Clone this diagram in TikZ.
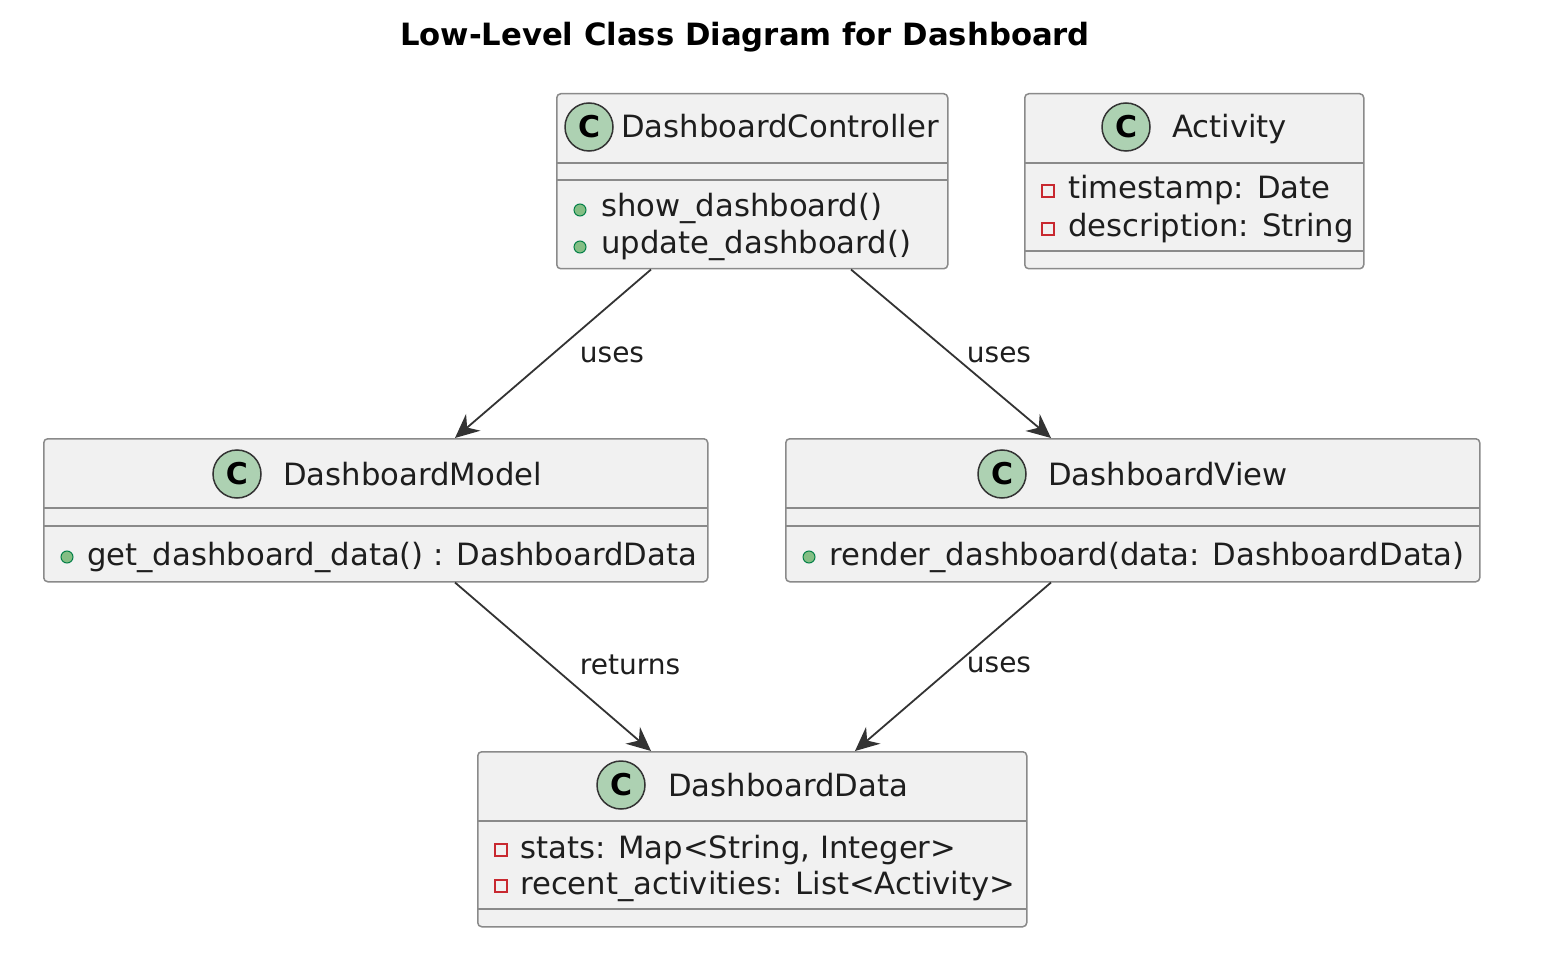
\documentclass[tikz,border=0pt]{standalone}
\usepackage{fontspec}
\setmainfont{DejaVu Sans}
\usetikzlibrary{arrows.meta}
\definecolor{boxfill}{HTML}{F1F1F1}
\definecolor{boxline}{HTML}{8A8A8A}
\definecolor{cgreen}{HTML}{ADD1B2}
\definecolor{pubfill}{HTML}{84BE84}
\definecolor{publine}{HTML}{038048}
\definecolor{privline}{HTML}{C82930}
\definecolor{txtcol}{HTML}{1E1E1E}
\begin{document}
\begin{tikzpicture}[x=1pt,y=-1pt,
  classbox/.style={draw=boxline, fill=boxfill, line width=1.5pt, rounded corners=4pt, anchor=north west, inner sep=0pt},
  sepline/.style={draw=boxline, line width=1.5pt},
  cicon/.style={circle, draw=black!80, fill=cgreen, line width=1.5pt, minimum size=48pt, inner sep=0pt, font=\bfseries\fontsize{30}{30}\selectfont},
  txt/.style={anchor=base west, inner sep=0pt, font=\fontsize{30.7}{36}\selectfont, text=txtcol},
  pub/.style={circle, draw=publine, fill=pubfill, line width=1pt, minimum size=12pt, inner sep=0pt},
  priv/.style={rectangle, draw=privline, line width=1.6pt, minimum size=12pt, inner sep=0pt},
  lbl/.style={inner sep=0pt, font=\fontsize{28}{32}\selectfont, text=txtcol},
  conn/.style={draw=black!80, line width=1.8pt, -{Stealth[length=24pt,width=22pt,inset=8pt]}}
]
\useasboundingbox[fill=white] (0,0) rectangle (1544,976);

% title
\node[anchor=base, inner sep=0pt, font=\bfseries\fontsize{30.7}{36}\selectfont] (title) at (745,46) {Low-Level Class Diagram for Dashboard};

% DashboardController
\node[classbox, minimum width=391pt, minimum height=175pt] (ctrl) at (556,93) {};
\draw[sepline] (556,163) -- (947,163);
\draw[sepline] (556,180) -- (947,180);
\node[cicon] (ctrlc) at (589,127) {C};
\node[txt] (ctrln) at (621,138) {DashboardController};
\node[pub] (ctrlp1) at (580,210) {};
\node[txt] (ctrlm1) at (601,217) {show\_dashboard()};
\node[pub] (ctrlp2) at (580,247) {};
\node[txt] (ctrlm2) at (601,254) {update\_dashboard()};

% Activity
\node[classbox, minimum width=339pt, minimum height=175pt] (act) at (1024,93) {};
\draw[sepline] (1024,163) -- (1363,163);
\draw[sepline] (1024,251) -- (1363,251);
\node[cicon] (actc) at (1126,127) {C};
\node[txt] (actn) at (1172,138) {Activity};
\node[priv] (acta1i) at (1048,191) {};
\node[txt] (acta1) at (1068,199) {timestamp: Date};
\node[priv] (acta2i) at (1048,229) {};
\node[txt] (acta2) at (1068,237) {description: String};

% DashboardModel
\node[classbox, minimum width=664pt, minimum height=143pt] (model) at (43,438) {};
\draw[sepline] (43,508) -- (707,508);
\draw[sepline] (43,526) -- (707,526);
\node[cicon] (modelc) at (237,474) {C};
\node[txt] (modeln) at (283,485) {DashboardModel};
\node[pub] (modelp1) at (67,557) {};
\node[txt] (modelm1) at (87,565) {get\_dashboard\_data() : DashboardData};

% DashboardView
\node[classbox, minimum width=694pt, minimum height=143pt] (view) at (785,438) {};
\draw[sepline] (785,508) -- (1479,508);
\draw[sepline] (785,526) -- (1479,526);
\node[cicon] (viewc) at (1002,474) {C};
\node[txt] (viewn) at (1048,485) {DashboardView};
\node[pub] (viewp1) at (809,557) {};
\node[txt] (viewm1) at (829,565) {render\_dashboard(data: DashboardData)};

% DashboardData
\node[classbox, minimum width=549pt, minimum height=175pt] (data) at (477,751) {};
\draw[sepline] (477,821) -- (1026,821);
\draw[sepline] (477,909) -- (1026,909);
\node[cicon] (datac) at (621,785) {C};
\node[txt] (datan) at (668,796) {DashboardData};
\node[priv] (dataa1i) at (501,850) {};
\node[txt] (dataa1) at (520,858) {stats: Map<String, Integer>};
\node[priv] (dataa2i) at (501,886) {};
\node[txt] (dataa2) at (520,894) {recent\_activities: List<Activity>};

% connectors
\draw[conn] ([xshift=95pt]ctrl.south west) -- ([xshift=412pt]model.north west);
\draw[conn] ([xshift=295pt]ctrl.south west) -- ([xshift=266pt]view.north west);
\draw[conn] ([xshift=412pt]model.south west) -- ([xshift=174pt]data.north west);
\draw[conn] ([xshift=266pt]view.south west) -- ([xshift=378pt]data.north west);

\node[lbl] (l1) at (612,355) {uses};
\node[lbl] (l2) at (999,355) {uses};
\node[lbl] (l3) at (630,665) {returns};
\node[lbl] (l4) at (999,665) {uses};
\end{tikzpicture}
\end{document}
